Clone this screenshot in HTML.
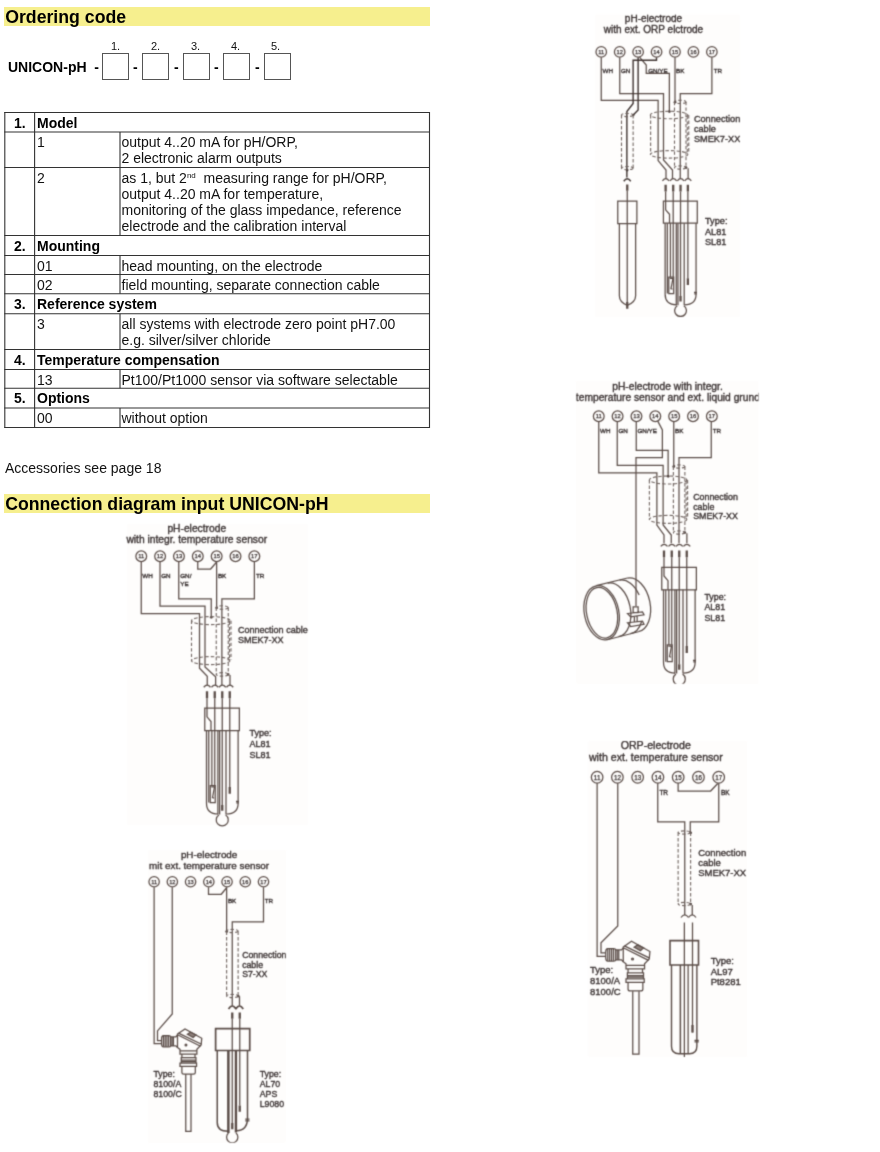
<!DOCTYPE html>
<html><head><meta charset="utf-8"><title>UNICON-pH ordering code</title>
<style>
html,body{margin:0;padding:0;background:#fff;}
body{width:880px;height:1152px;position:relative;overflow:hidden;font-family:"Liberation Sans",Arial,sans-serif;color:#000;}
.band{position:absolute;left:4px;width:426px;background:#f6ef8e;}
.h{position:absolute;left:5.2px;font-weight:bold;font-size:17.7px;line-height:20px;white-space:nowrap;}
#w{position:absolute;left:0;top:0;width:880px;height:1152px;will-change:transform}
.t{position:absolute;font-size:14px;line-height:16.25px;white-space:nowrap;color:#111;}
.b{font-weight:bold;color:#000;}
.hl{position:absolute;left:5px;width:425px;height:1px;background:#333;}
.vl{position:absolute;width:1px;background:#333;}
.box{position:absolute;top:53px;width:25px;height:25px;border:1px solid #555;box-sizing:content-box;}
.n{position:absolute;top:39.6px;font-size:11px;line-height:12px;color:#111;}
.d{position:absolute;top:59px;font-weight:bold;font-size:14px;line-height:16px;}
sup{font-size:8px;line-height:0;vertical-align:5px;}
#dg *{vector-effect:non-scaling-stroke}
.da{stroke-dasharray:3.4 2.1;stroke:#6f635f;stroke-width:1.1}
.tk{stroke-width:2.3}
.tn text{stroke-width:0.25px}
svg text{stroke:#3a3232;stroke-width:0.35px;font-family:"Liberation Sans",Arial,sans-serif;fill:#3a3232;}
</style></head><body>
<div id="w">
<div class="band" style="top:7px;height:19px"></div>
<div class="h" style="top:7.3px">Ordering code</div>

<div class="t b" style="left:8px;top:59px;">UNICON-pH&nbsp; -</div>
<div class="n" style="left:111px">1.</div><div class="box" style="left:102px"></div><div class="d" style="left:133px">-</div>
<div class="n" style="left:151px">2.</div><div class="box" style="left:142px"></div><div class="d" style="left:174px">-</div>
<div class="n" style="left:191px">3.</div><div class="box" style="left:183px"></div><div class="d" style="left:214px">-</div>
<div class="n" style="left:231px">4.</div><div class="box" style="left:223px"></div><div class="d" style="left:255px">-</div>
<div class="n" style="left:271px">5.</div><div class="box" style="left:264px"></div>

<!-- table lines -->
<svg width="880" height="1152" style="position:absolute;left:0;top:0" stroke="#333" stroke-width="1.1" fill="none">
<line x1="4.3" y1="112.5" x2="430" y2="112.5"/>
<line x1="4.3" y1="132" x2="430" y2="132"/>
<line x1="4.3" y1="167.5" x2="430" y2="167.5"/>
<line x1="4.3" y1="235.5" x2="430" y2="235.5"/>
<line x1="4.3" y1="255.5" x2="430" y2="255.5"/>
<line x1="4.3" y1="274.5" x2="430" y2="274.5"/>
<line x1="4.3" y1="293.75" x2="430" y2="293.75"/>
<line x1="4.3" y1="313.75" x2="430" y2="313.75"/>
<line x1="4.3" y1="349.5" x2="430" y2="349.5"/>
<line x1="4.3" y1="369.5" x2="430" y2="369.5"/>
<line x1="4.3" y1="388.25" x2="430" y2="388.25"/>
<line x1="4.3" y1="408" x2="430" y2="408"/>
<line x1="4.3" y1="427.5" x2="430" y2="427.5"/>
<line x1="4.8" y1="112" x2="4.8" y2="428"/>
<line x1="34.6" y1="112" x2="34.6" y2="428"/>
<line x1="429.5" y1="112" x2="429.5" y2="428"/>
<line x1="120" y1="132" x2="120" y2="167.5"/>
<line x1="120" y1="167.5" x2="120" y2="235.5"/>
<line x1="120" y1="255.5" x2="120" y2="274.5"/>
<line x1="120" y1="274.5" x2="120" y2="293.75"/>
<line x1="120" y1="313.75" x2="120" y2="349.5"/>
<line x1="120" y1="369.5" x2="120" y2="388.25"/>
<line x1="120" y1="408" x2="120" y2="427.5"/>
</svg>
<div class="t b" style="left:14px;top:114.5px">1.</div><div class="t b" style="left:37px;top:114.5px">Model</div>
<div class="t" style="left:37px;top:134px">1</div><div class="t" style="left:121.5px;top:134px">output 4..20 mA for pH/ORP,<br>2 electronic alarm outputs</div>
<div class="t" style="left:37px;top:169.5px">2</div><div class="t" style="left:121.5px;top:169.5px">as 1, but 2<sup>nd</sup>&nbsp; measuring range for pH/ORP,<br>output 4..20 mA for temperature,<br>monitoring of the glass impedance, reference<br>electrode and the calibration interval</div>
<div class="t b" style="left:14px;top:237.5px">2.</div><div class="t b" style="left:37px;top:237.5px">Mounting</div>
<div class="t" style="left:37px;top:257.5px">01</div><div class="t" style="left:121.5px;top:257.5px">head mounting, on the electrode</div>
<div class="t" style="left:37px;top:276.5px">02</div><div class="t" style="left:121.5px;top:276.5px">field mounting, separate connection cable</div>
<div class="t b" style="left:14px;top:295.75px">3.</div><div class="t b" style="left:37px;top:295.75px">Reference system</div>
<div class="t" style="left:37px;top:315.75px">3</div><div class="t" style="left:121.5px;top:315.75px">all systems with electrode zero point pH7.00<br>e.g. silver/silver chloride</div>
<div class="t b" style="left:14px;top:351.5px">4.</div><div class="t b" style="left:37px;top:351.5px">Temperature compensation</div>
<div class="t" style="left:37px;top:371.5px">13</div><div class="t" style="left:121.5px;top:371.5px">Pt100/Pt1000 sensor via software selectable</div>
<div class="t b" style="left:14px;top:390.25px">5.</div><div class="t b" style="left:37px;top:390.25px">Options</div>
<div class="t" style="left:37px;top:410px">00</div><div class="t" style="left:121.5px;top:410px">without option</div>


<div class="t" style="left:5px;top:459.5px;">Accessories see page 18</div>
<div class="band" style="top:494px;height:19px"></div>
<div class="h" style="top:494.3px">Connection diagram input UNICON-pH</div>

</div>
<svg id="dg" width="880" height="1152" viewBox="0 0 880 1152" style="position:absolute;left:0;top:0" fill="none" stroke="#5a4c47" stroke-width="1.25">
<filter id="bl" x="0" y="0" width="880" height="1152" filterUnits="userSpaceOnUse" color-interpolation-filters="sRGB"><feConvolveMatrix order="3" kernelMatrix="0.0311 0.1141 0.0311 0.1141 0.4191 0.1141 0.0311 0.1141 0.0311" divisor="1" edgeMode="duplicate" preserveAlpha="false"/></filter>
<g filter="url(#bl)">
<defs>
<!-- electrode AL81 : 8x units, origin = (170,685) view -->
<g id="elA">
<path d="M270 18 q27 -34 54 0 M332 18 q27 -34 54 0 M392 18 q27 -34 54 0 M452 18 q27 -34 54 0"/>
<path class="tk" d="M296 50V105M358 50V105M418 50V105M478 50V105"/>
<rect x="278" y="185" width="277" height="180"/>
<path d="M296 105V255L328 292V365"/>
<path d="M358 105V805M418 105V960M478 105V815"/>
<path class="tk" d="M418 960V1005M478 815V870"/>
<path d="M292 365V945Q292 1030 385 1032"/>
<path d="M545 365V945Q545 1030 450 1032"/>
<path d="M310 365V940M335 365V805M383 365V1035M397 365V1035M448 365V1035"/>
<rect x="322" y="805" width="40" height="135"/>
<path d="M330 815H356L340 900L352 905"/>
<path d="M528 930H552M530 942H550"/>
<path d="M391 1040A48 48 0 1 0 445 1040"/>
</g>
<!-- electrode AL70 : 8x units, origin=(200,1008) view -->
<g id="elB">
<path class="tk" d="M258 35V85M318 35V85"/>
<rect x="125" y="165" width="273" height="175" stroke-width="1.7"/>
<path d="M258 85V920M318 85V780"/>
<path class="tk" d="M258 920V970M318 780V830"/>
<path d="M138 340V915Q138 985 225 985" stroke-width="1.5"/>
<path d="M380 340V880Q380 980 292 982" stroke-width="1.5"/>
<path d="M222 340V1000M232 340V1000M283 340V995M292 340V995"/>
<path d="M362 888H396M362 902H396"/>
<path d="M228 1000A45 45 0 1 0 288 1000"/>
</g>
<!-- thermometer head 8100 : 16x units, origin=(150,1020) view -->
<g id="th">
<path d="M185 300Q185 250 215 250H300Q330 250 330 270V410Q330 430 300 430H215Q185 430 185 380Z"/>
<path d="M215 255V425M243 252V428M271 252V428M299 255V425"/>
<path d="M330 268H415L440 240M330 412H415L440 440M352 268V412M375 268V412" />
<path d="M440 225L560 142L828 292L818 400L750 470V545H480V470L440 440Z"/>
<path d="M440 236L808 420M456 210L824 388"/>
<path d="M598 228L650 194L735 240L690 280Z" fill="#8d807b"/>
<circle cx="575" cy="400" r="14"/>
<path d="M480 492H750M510 545V600M720 545V600M500 600H735V690H500ZM500 640H735M500 665H735M480 690H745V740H480ZM510 740V840Q510 865 540 865H695Q725 865 725 840V740"/>
</g>
<!-- ORP electrode single: 8x units origin=(585,180) view -->
<g id="elC">
<path class="tk" d="M338 35V85M338 975V1030"/>
<path d="M338 85V980"/>
<rect x="262" y="168" width="153" height="180"/>
<path d="M275 348V925Q275 975 338 1003Q405 975 405 925V348"/>
</g>
<!-- electrode AL97 : 8x units origin=(620,920) view -->
<g id="elD">
<rect x="400" y="165" width="228" height="195" stroke-width="1.6"/>
<path d="M515 20V1100M580 20V900"/>
<path class="tk" d="M580 840V900" stroke-width="1.8"/>
<path d="M412 360V1010Q412 1070 472 1070H555Q615 1070 615 1010V360" stroke-width="1.4"/>
<path d="M483 360V1070" stroke-width="1.5"/><path d="M545 360V1070"/>
<path d="M596 962H630M596 975H630"/>
</g>
</defs>

<!-- diagram 1 -->
<rect x="127" y="524" width="181" height="301" fill="#fefdfc" stroke="none"/>
<g transform="translate(130,545) scale(0.125)">
<g font-size="82" text-anchor="middle"><text x="534" y="-108">pH-electrode</text><text x="534" y="-20">with integr. temperature sensor</text></g>
<g transform="translate(90,90)">
<circle cx="0" cy="0" r="43"/><circle cx="150.8" cy="0" r="43"/><circle cx="301.6" cy="0" r="43"/><circle cx="452.4" cy="0" r="43"/><circle cx="603.2" cy="0" r="43"/><circle cx="754" cy="0" r="43"/><circle cx="904.8" cy="0" r="43"/>
<g font-size="47" text-anchor="middle" class="tn"><text x="0" y="17">11</text><text x="150.8" y="17">12</text><text x="301.6" y="17">13</text><text x="452.4" y="17">14</text><text x="603.2" y="17">15</text><text x="754" y="17">16</text><text x="904.8" y="17">17</text></g></g>
<g font-size="50"><text x="98" y="264">WH</text><text x="250" y="264">GN</text><text x="402" y="264">GN/</text><text x="402" y="326">YE</text><text x="703" y="264">BK</text><text x="1008" y="264">TR</text></g>
<path d="M90 134V548H556V985L618 1050V1120"/>
<path d="M240 134V488H600V975L685 1055V1120"/>
<path d="M390 134V430H650V575"/>
<path d="M542 134V192H645L690 140"/>
<path d="M693 134V500"/>
<path d="M995 134V430H735V1120"/>
<path d="M800 1040V1120"/>
<circle cx="650" cy="578" r="11" fill="#5d4f4a" stroke="none"/><circle cx="693" cy="502" r="11" fill="#5d4f4a" stroke="none"/><circle cx="785" cy="1035" r="11" fill="#5d4f4a" stroke="none"/>
<g class="da">
<ellipse cx="646" cy="605" rx="154" ry="32"/><ellipse cx="646" cy="925" rx="154" ry="32"/>
<path d="M492 605V925"/>
<ellipse cx="738" cy="500" rx="48" ry="14"/><ellipse cx="738" cy="1035" rx="48" ry="14"/>
<path d="M690 500V1035M786 500V1035"/>
</g>
<path class="da" d="M796 612V925M808 605V918"/>
<g font-size="72.5"><text x="863" y="705">Connection cable</text><text x="863" y="787">SMEK7-XX</text>
<text x="955" y="1530">Type:</text><text x="955" y="1615">AL81</text><text x="955" y="1700">SL81</text></g>
<use href="#elA" x="320" y="1120"/>
</g>

<!-- diagram 2 -->
<clipPath id="c2"><rect x="148" y="850" width="137.8" height="292.8"/></clipPath>
<rect x="148" y="850" width="137.8" height="292.8" fill="#fefdfc" stroke="none"/>
<g clip-path="url(#c2)"><g transform="translate(140,864) scale(0.125)">
<g font-size="79" text-anchor="middle"><text x="553" y="-50">pH-electrode</text><text x="553" y="40">mit ext. temperature sensor</text></g>
<g transform="translate(113,142) scale(0.967)">
<circle cx="0" cy="0" r="43"/><circle cx="150.8" cy="0" r="43"/><circle cx="301.6" cy="0" r="43"/><circle cx="452.4" cy="0" r="43"/><circle cx="603.2" cy="0" r="43"/><circle cx="754" cy="0" r="43"/><circle cx="904.8" cy="0" r="43"/>
<g font-size="47" text-anchor="middle" class="tn"><text x="0" y="17">11</text><text x="150.8" y="17">12</text><text x="301.6" y="17">13</text><text x="452.4" y="17">14</text><text x="603.2" y="17">15</text><text x="754" y="17">16</text><text x="904.8" y="17">17</text></g></g>
<g font-size="50"><text x="703" y="314">BK</text><text x="998" y="314">TR</text></g>
<path d="M113 186V1437H175"/>
<path d="M258 186V1200L140 1335V1413H175"/>
<path d="M548 186V242H650L693 190"/>
<path d="M693 186V540"/>
<path d="M988 186V462H738V1130"/>
<path d="M796 1058V1130"/>
<circle cx="693" cy="540" r="11" fill="#4e413d" stroke="none"/><circle cx="785" cy="1056" r="11" fill="#4e413d" stroke="none"/>
<g class="da">
<ellipse cx="739" cy="536" rx="46" ry="13"/><ellipse cx="739" cy="1056" rx="46" ry="13"/>
<path d="M693 540V1056M785 540V1056"/>
</g>
<path d="M708 1160q30 -50 60 0M766 1160q30 -50 60 0" stroke-width="1.7"/>
<g font-size="70"><text x="817" y="750">Connection</text><text x="817" y="828">cable</text><text x="817" y="907">S7-XX</text>
<text x="108" y="1704">Type:</text><text x="108" y="1784">8100/A</text><text x="108" y="1864">8100/C</text>
<text x="958" y="1704">Type:</text><text x="958" y="1784">AL70</text><text x="958" y="1862">APS</text><text x="958" y="1942">L9080</text></g>
<use href="#elB" x="480" y="1152"/>
<use href="#th" transform="translate(80,1248) scale(0.5)"/>
<path d="M366 1682V2138H408V1682"/>
</g></g>

<!-- diagram 3 -->
<clipPath id="c3"><rect x="595" y="14.7" width="145" height="302.3"/></clipPath>
<rect x="595" y="14.7" width="145" height="302.3" fill="#fefdfc" stroke="none"/>
<g clip-path="url(#c3)"><g transform="translate(585,40) scale(0.125)">
<g font-size="80" text-anchor="middle"><text x="548" y="-145">pH-electrode</text><text x="548" y="-55">with ext. ORP elctrode</text></g>
<g transform="translate(130,95) scale(0.978)">
<circle cx="0" cy="0" r="43"/><circle cx="150.8" cy="0" r="43"/><circle cx="301.6" cy="0" r="43"/><circle cx="452.4" cy="0" r="43"/><circle cx="603.2" cy="0" r="43"/><circle cx="754" cy="0" r="43"/><circle cx="904.8" cy="0" r="43"/>
<g font-size="47" text-anchor="middle" class="tn"><text x="0" y="17">11</text><text x="150.8" y="17">12</text><text x="301.6" y="17">13</text><text x="452.4" y="17">14</text><text x="603.2" y="17">15</text><text x="754" y="17">16</text><text x="904.8" y="17">17</text></g></g>
<g font-size="50"><text x="140" y="264">WH</text><text x="288" y="264">GN</text><text x="505" y="260">GN/YE</text><text x="728" y="264">BK</text><text x="1030" y="264">TR</text></g>
<path d="M130 139V483H585V965L648 1040V1110"/>
<path d="M278 139V428H628V960L700 1040V1110"/>
<path d="M436 137L490 200V267H675V570"/>
<path d="M720 139V495"/>
<path d="M1015 139V428H762V1110"/>
<path d="M825 1025V1110"/>
<g stroke-width="1.4" stroke="#3d322f"><path d="M572 139V162H385V508L335 572V1100"/><path d="M425 139V560L388 598"/><path d="M310 1130q28 -40 56 0"/></g>
<circle cx="675" cy="572" r="11" fill="#4e413d" stroke="none"/><circle cx="720" cy="497" r="11" fill="#4e413d" stroke="none"/><circle cx="808" cy="1020" r="11" fill="#4e413d" stroke="none"/><circle cx="386" cy="600" r="10" fill="#3d322f" stroke="none"/><circle cx="337" cy="1040" r="11" fill="#3d322f" stroke="none"/>
<g class="da">
<ellipse cx="673" cy="600" rx="150" ry="30"/><ellipse cx="673" cy="915" rx="150" ry="30"/>
<path d="M525 600V915"/>
<ellipse cx="762" cy="495" rx="46" ry="13"/><ellipse cx="762" cy="1020" rx="46" ry="13"/>
<path d="M716 495V1020M808 495V1020"/>
<ellipse cx="338" cy="600" rx="46" ry="13"/><ellipse cx="338" cy="1025" rx="46" ry="13"/>
<path d="M292 600V1025M385 600V1025"/>
</g>
<path class="da" d="M818 607V915M830 600V908"/>
<g font-size="73.5"><text x="871" y="657">Connection</text><text x="871" y="737">cable</text><text x="871" y="818">SMEK7-XX</text>
<text x="960" y="1475">Type:</text><text x="960" y="1557">AL81</text><text x="960" y="1640">SL81</text></g>
<use href="#elA" transform="translate(355.5,1109) scale(0.978)"/>
<use href="#elC" x="0" y="1120"/>
</g></g>

<!-- diagram 4 -->
<clipPath id="c4"><rect x="576.2" y="381" width="182.2" height="302.8"/></clipPath>
<rect x="576.2" y="381" width="182.2" height="302.8" fill="#fefdfc" stroke="none"/>
<g clip-path="url(#c4)"><g transform="translate(575,380) scale(0.125)">
<g font-size="82" text-anchor="middle"><text x="740" y="81">pH-electrode with integr.</text><text x="743" y="166">temperature sensor and ext. liquid grund</text></g>
<g transform="translate(190,290)">
<circle cx="0" cy="0" r="43"/><circle cx="150.8" cy="0" r="43"/><circle cx="301.6" cy="0" r="43"/><circle cx="452.4" cy="0" r="43"/><circle cx="603.2" cy="0" r="43"/><circle cx="754" cy="0" r="43"/><circle cx="904.8" cy="0" r="43"/>
<g font-size="47" text-anchor="middle" class="tn"><text x="0" y="17">11</text><text x="150.8" y="17">12</text><text x="301.6" y="17">13</text><text x="452.4" y="17">14</text><text x="603.2" y="17">15</text><text x="754" y="17">16</text><text x="904.8" y="17">17</text></g></g>
<g font-size="50"><text x="200" y="424">WH</text><text x="348" y="424">GN</text><text x="500" y="424">GN/YE</text><text x="800" y="424">BK</text><text x="1102" y="424">TR</text></g>
<path d="M190 334V742H655V1160L712 1240V1305"/>
<path d="M338 334V683H705V1160L770 1240V1305"/>
<path d="M490 334V562H745V768"/>
<path d="M662 329L699 400V620H488V1808"/>
<path d="M790 334V690"/>
<path d="M1090 334V620H832V1305"/>
<path d="M895 1225V1305"/>
<circle cx="745" cy="770" r="11" fill="#4e413d" stroke="none"/><circle cx="790" cy="692" r="11" fill="#4e413d" stroke="none"/><circle cx="878" cy="1220" r="11" fill="#4e413d" stroke="none"/>
<g class="da">
<ellipse cx="745" cy="800" rx="150" ry="32"/><ellipse cx="745" cy="1115" rx="150" ry="32"/>
<path d="M595 800V1115"/>
<ellipse cx="833" cy="692" rx="46" ry="13"/><ellipse cx="833" cy="1220" rx="46" ry="13"/>
<path d="M787 692V1220M879 692V1220"/>
</g>
<path class="da" d="M889 807V1115M901 800V1108"/>
<g font-size="71"><text x="945" y="958">Connection</text><text x="945" y="1038">cable</text><text x="945" y="1115">SMEK7-XX</text>
<text x="1035" y="1760">Type:</text><text x="1035" y="1842">AL81</text><text x="1035" y="1925">SL81</text></g>
<use href="#elA" x="416" y="1313"/>
<!-- pipe clamp -->
<g transform="translate(0,1120)">
<g transform="rotate(-11.5 213 742)"><ellipse cx="213" cy="742" rx="138" ry="219"/><ellipse cx="215" cy="742" rx="122" ry="205"/></g>
<path d="M170 525L420 464M258 958L507 894"/>
<g transform="rotate(-11.5 305 719)"><path d="M305 500A138 219 0 0 1 305 938"/></g>
<g transform="rotate(-11.5 400 695)"><path d="M400 476A138 219 0 0 1 530 625M505 840A138 219 0 0 1 400 914"/></g>
<g transform="rotate(-11.5 463 679)"><path d="M463 460A138 219 0 0 1 463 898"/></g>
<path d="M465 695H505V740H465ZM420 748L540 735L552 758L445 775ZM420 822L540 810L552 835L445 852ZM475 775V812M497 770V810"/>
</g>
</g></g>

<!-- diagram 5 -->
<clipPath id="c5"><rect x="588.3" y="741" width="158.5" height="316"/></clipPath>
<rect x="588.3" y="741" width="158.5" height="316" fill="#fefdfc" stroke="none"/>
<g clip-path="url(#c5)"><g transform="translate(585,740) scale(0.125)">
<g font-size="85" text-anchor="middle"><text x="566" y="72">ORP-electrode</text><text x="567" y="166">with ext. temperature sensor</text></g>
<g transform="translate(97,298) scale(1.075)">
<circle cx="0" cy="0" r="43"/><circle cx="150.8" cy="0" r="43"/><circle cx="301.6" cy="0" r="43"/><circle cx="452.4" cy="0" r="43"/><circle cx="603.2" cy="0" r="43"/><circle cx="754" cy="0" r="43"/><circle cx="904.8" cy="0" r="43"/>
<g font-size="47" text-anchor="middle" class="tn"><text x="0" y="17">11</text><text x="150.8" y="17">12</text><text x="301.6" y="17">13</text><text x="452.4" y="17">14</text><text x="603.2" y="17">15</text><text x="754" y="17">16</text><text x="904.8" y="17">17</text></g></g>
<g font-size="52"><text x="595" y="440">TR</text><text x="1087" y="440">BK</text></g>
<path d="M97 346V1730H165"/>
<path d="M262 346V1487L128 1622V1702H165"/>
<path d="M582 346V655H798V1400"/>
<path d="M745 346V408H1005L1062 348"/>
<path d="M1070 346V655H842V740"/>
<path d="M858 1320V1400"/>
<circle cx="845" cy="742" r="11" fill="#4e413d" stroke="none"/><circle cx="845" cy="1312" r="11" fill="#4e413d" stroke="none"/>
<g class="da">
<ellipse cx="795" cy="740" rx="50" ry="13"/><ellipse cx="795" cy="1312" rx="50" ry="13"/>
<path d="M745 740V1312M845 740V1312"/>
</g>
<path d="M768 1420q30 -44 60 0M828 1420q30 -44 60 0"/>
<g font-size="76"><text x="905" y="925">Connection</text><text x="905" y="1007">cable</text><text x="905" y="1090">SMEK7-XX</text>
<text x="40" y="1867">Type:</text><text x="40" y="1952">8100/A</text><text x="40" y="2037">8100/C</text>
<text x="1005" y="1792">Type:</text><text x="1005" y="1877">AL97</text><text x="1005" y="1962">Pt8281</text></g>
<use href="#elD" x="280" y="1440"/>
<use href="#th" transform="translate(64,1532) scale(0.55)"/>
<path d="M382 2010V2512H432V2010"/>
</g></g>

</g>
</svg>
</body></html>
